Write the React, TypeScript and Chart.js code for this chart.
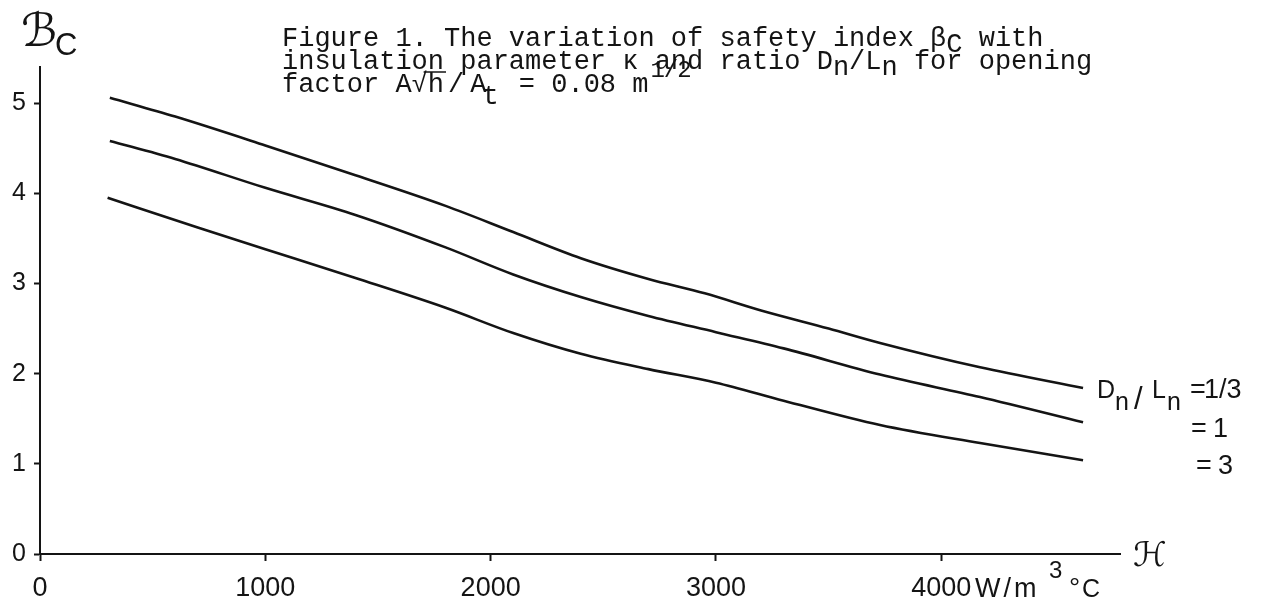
import { useEffect, useRef } from "react";
import { Chart, registerables } from "chart.js";

Chart.register(...registerables);

// Series: Dn/Ln = 1/3 (top), = 1 (middle), = 3 (bottom)
const xThird = [310, 600, 1000, 1400, 1800, 2100, 2400, 2700, 2950, 3200, 3500, 3728, 4172, 4629];
const yThird = [5.06, 4.85, 4.53, 4.2, 3.86, 3.57, 3.28, 3.05, 2.89, 2.7, 2.5, 2.34, 2.07, 1.84];

const xOne = [310, 600, 1000, 1400, 1800, 2100, 2400, 2700, 3000, 3300, 3728, 4172, 4629];
const yOne = [4.58, 4.38, 4.06, 3.76, 3.4, 3.1, 2.85, 2.64, 2.46, 2.28, 1.99, 1.74, 1.46];

const xThree = [300, 700, 1000, 1400, 1800, 2100, 2400, 2700, 3000, 3300, 3728, 4172, 4629];
const yThree = [3.95, 3.62, 3.38, 3.06, 2.73, 2.45, 2.22, 2.05, 1.9, 1.7, 1.43, 1.23, 1.04];

const xTickValues = [0, 1000, 2000, 3000, 4000];
const yTickValues = [0, 1, 2, 3, 4, 5];

const seriesLabels = ["Dn/Ln = 1/3", "Dn/Ln = 1", "Dn/Ln = 3"];

const INK = "#141414";

function pts(xs: number[], ys: number[]) {
  return xs.map((x, i) => ({ x, y: ys[i] }));
}

type Part = { t: string; dy?: number; font?: string; ls?: number; dx?: number };

function drawSeq(ctx: CanvasRenderingContext2D, x: number, y: number, font: string, parts: Part[]) {
  let cx = x;
  const pos: number[] = [];
  for (const p of parts) {
    ctx.font = p.font || font;
    (ctx as any).letterSpacing = (p.ls ?? 0) + "px";
    cx += p.dx ?? 0;
    pos.push(cx);
    ctx.fillText(p.t, cx, y + (p.dy ?? 0));
    cx += ctx.measureText(p.t).width;
  }
  (ctx as any).letterSpacing = "0px";
  return pos;
}

const annotations = {
  id: "annotations",
  afterDraw(chart: any) {
    const ctx: CanvasRenderingContext2D = chart.ctx;
    ctx.save();
    ctx.fillStyle = INK;
    ctx.strokeStyle = INK;
    ctx.textAlign = "left";
    ctx.textBaseline = "alphabetic";

    // Y axis symbol
    ctx.font = 'italic 46px "DejaVu Serif", "DejaVu Sans"';
    ctx.fillText("ℬ", 21, 46);
    ctx.font = '31px "Liberation Sans"';
    ctx.fillText("C", 55, 55);

    // X axis symbol
    ctx.font = 'italic 34px "DejaVu Serif", "DejaVu Sans"';
    ctx.fillText("ℋ", 1133, 566);

    // unit after 4000
    ctx.font = '27px "Liberation Sans"';
    (ctx as any).letterSpacing = "3px";
    ctx.fillText("W/m", 975, 597);
    (ctx as any).letterSpacing = "0px";
    ctx.font = '24px "Liberation Sans"';
    ctx.fillText("3", 1049, 578);
    ctx.font = '28px "Liberation Sans"';
    ctx.fillText("°", 1069, 597);
    ctx.font = '25px "Liberation Sans"';
    ctx.fillText("C", 1082, 597);

    // title, typewriter style
    const mono = '27px "Liberation Mono"';
    const tx = 282;
    drawSeq(ctx, tx, 46, mono, [
      { t: "Figure 1. The variation of safety index β" },
      { t: "C", dy: 6 },
      { t: " with" },
    ]);
    drawSeq(ctx, tx, 69, mono, [
      { t: "insulation parameter κ and ratio D" },
      { t: "n", dy: 6 },
      { t: "/L" },
      { t: "n", dy: 6 },
      { t: " for opening" },
    ]);
    const p = drawSeq(ctx, tx, 92, mono, [
      { t: "factor A" },
      { t: "√" },
      { t: "h" },
      { t: "/", dx: 4 },
      { t: "A", dx: 6 },
      { t: "t", dy: 12, dx: -4 },
      { t: " = 0.08 m", dx: 4 },
      { t: "1/2", dy: -15, font: '24px "Liberation Mono"', ls: -1, dx: 2 },
    ]);
    ctx.lineWidth = 1.5;
    ctx.beginPath();
    ctx.moveTo(p[1] + 12, 72);
    ctx.lineTo(p[3] - 2, 72);
    ctx.stroke();

    // series labels
    const sans = '25px "Liberation Sans"';
    ctx.font = sans;
    ctx.fillText("D", 1097, 398);
    ctx.fillText("n", 1115, 410);
    ctx.font = '31px "Liberation Sans"';
    ctx.fillText("/", 1134, 409);
    ctx.font = sans;
    ctx.fillText("L", 1152, 398);
    ctx.fillText("n", 1167, 410);
    ctx.font = '27px "Liberation Sans"';
    ctx.fillText("=", 1190, 398);
    ctx.fillText("1/3", 1204, 398);
    ctx.fillText("=", 1191, 437);
    ctx.fillText("1", 1213, 437);
    ctx.fillText("=", 1196, 474);
    ctx.fillText("3", 1218, 474);

    ctx.restore();
  },
};

export default function App() {
  const ref = useRef<HTMLCanvasElement | null>(null);

  useEffect(() => {
    if (!ref.current) return;
    const lineDs = (label: string, xs: number[], ys: number[]) => ({
      label,
      data: pts(xs, ys),
      borderColor: INK,
      borderWidth: 2.6,
      pointRadius: 0,
      showLine: true,
      fill: false,
      cubicInterpolationMode: "monotone" as const,
    });

    const axisCommon = {
      type: "linear" as const,
      border: { display: true, color: INK, width: 2 },
      grid: {
        drawOnChartArea: false,
        drawTicks: true,
        tickLength: 7,
        tickWidth: 2,
        tickColor: INK,
      },
    };

    const chart = new Chart(ref.current, {
      type: "scatter",
      data: {
        datasets: [
          lineDs(seriesLabels[0], xThird, yThird),
          lineDs(seriesLabels[1], xOne, yOne),
          lineDs(seriesLabels[2], xThree, yThree),
        ],
      },
      options: {
        animation: false,
        responsive: true,
        maintainAspectRatio: false,
        layout: { padding: { left: 0, top: 67, right: 144, bottom: 0 } },
        plugins: {
          legend: { display: false },
          tooltip: { enabled: false },
          title: { display: false },
        },
        scales: {
          x: {
            ...axisCommon,
            min: 0,
            max: 4793,
            afterBuildTicks: (s: any) => {
              s.ticks = xTickValues.map((v) => ({ value: v }));
            },
            afterFit: (s: any) => {
              s.height = 46;
            },
            ticks: {
              autoSkip: false,
              maxRotation: 0,
              color: INK,
              padding: 11,
              font: { family: "Liberation Sans", size: 27 },
              callback: (v: any) => String(v),
            },
          },
          y: {
            ...axisCommon,
            min: 0,
            max: 5.4,
            grid: { ...axisCommon.grid, tickLength: 6 },
            afterBuildTicks: (s: any) => {
              s.ticks = yTickValues.map((v) => ({ value: v }));
            },
            afterFit: (s: any) => {
              s.width = 40;
            },
            ticks: {
              color: INK,
              padding: 8,
              font: { family: "Liberation Sans", size: 25 },
              callback: (v: any) => String(v),
            },
          },
        },
      },
      plugins: [annotations],
    });
    return () => chart.destroy();
  }, []);

  return (
    <div style={{ position: "absolute", left: 0, top: 0, width: 1264, height: 600, background: "#fff" }}>
      <canvas ref={ref} />
    </div>
  );
}
